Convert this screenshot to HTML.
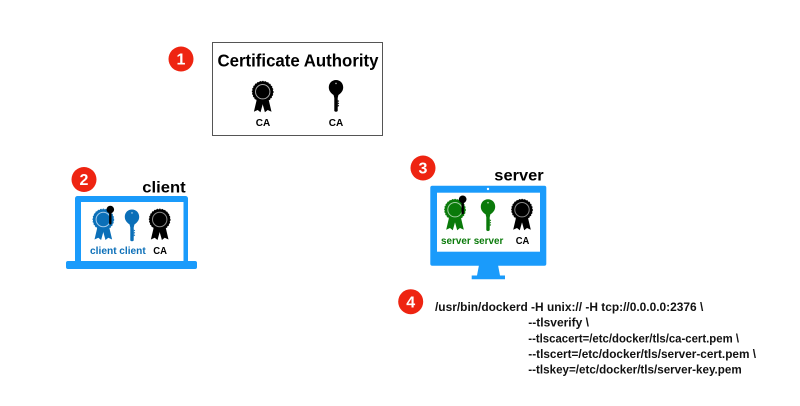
<!DOCTYPE html>
<html>
<head>
<meta charset="utf-8">
<style>
html,body{margin:0;padding:0;background:#fff;width:800px;height:406px;overflow:hidden}
svg{display:block}
text{font-family:"Liberation Sans",sans-serif;font-weight:bold}
</style>
</head>
<body>
<svg width="800" height="406" viewBox="0 0 800 406" xmlns="http://www.w3.org/2000/svg">
<defs>
<g id="ribbon">
  <polygon points="-5.5,6 -8.8,20 -5,18.3 -2.2,20.5 1,9"/>
  <polygon points="5.5,6 8.8,20 5,18.3 2.2,20.5 -1,9"/>
  <circle r="10.4"/>
  <circle r="10.5" fill="none" stroke="currentColor" stroke-width="0.7" stroke-dasharray="1.4 1.3"/>
</g>
<g id="key">
  <path d="M0,0 C4.2,0 7.2,3.2 7.2,7.4 C7.2,11 4.8,13.4 2.4,15 L1.7,18 L1.7,31 Q0,32.6 -1.7,31 L-1.7,18 L-2.4,15 C-4.8,13.4 -7.2,11 -7.2,7.4 C-7.2,3.2 -4.2,0 0,0 Z"/>
  <polygon points="1.7,20 3.2,21 1.7,22.3 3.2,23.3 1.7,24.6 3.2,25.6 1.7,27"/>
  <circle cx="0" cy="3.4" r="0.8" fill="#fff" fill-opacity="0.7"/>
</g>
</defs>

<!-- CA box -->
<rect x="212.5" y="42.5" width="170" height="93" fill="#fff" stroke="#555" stroke-width="1"/>
<text x="217.5" y="66.5" font-size="17.5" textLength="161" lengthAdjust="spacingAndGlyphs" fill="#000">Certificate Authority</text>
<use href="#ribbon" x="262.7" y="91.7" fill="#000" color="#000"/>
<circle cx="262.7" cy="91.7" r="7.2" fill="none" stroke="#a8a8a8" stroke-width="1"/>
<use href="#key" x="336" y="80" fill="#000"/>
<text x="263" y="126" font-size="10" text-anchor="middle" fill="#000">CA</text>
<text x="336" y="126" font-size="10" text-anchor="middle" fill="#000">CA</text>

<!-- badges -->
<g fill="#ee2411">
  <circle cx="181" cy="59" r="12.5"/>
  <circle cx="84" cy="179.5" r="12.5"/>
  <circle cx="423" cy="168" r="12.5"/>
  <circle cx="410.7" cy="301.7" r="12.5"/>
</g>
<g fill="#fff" font-size="16" text-anchor="middle">
  <text x="181" y="64.7">1</text>
  <text x="84" y="185.2">2</text>
  <text x="423" y="173.7">3</text>
  <text x="410.7" y="307.4">4</text>
</g>

<!-- client laptop -->
<text x="142.3" y="192.7" font-size="16" textLength="43.4" lengthAdjust="spacingAndGlyphs" fill="#000">client</text>
<rect x="75" y="196" width="113" height="68" rx="2.5" fill="#1a9bfb"/>
<rect x="81" y="202" width="102.5" height="59" fill="#fff"/>
<rect x="66" y="261" width="131" height="8" rx="2" fill="#1a9bfb"/>
<use href="#ribbon" x="103.3" y="219.5" fill="#0b6fb8" color="#0b6fb8"/>
<circle cx="103.3" cy="219.5" r="7.2" fill="none" stroke="#a5cdec" stroke-width="1"/>
<circle cx="110.3" cy="209.5" r="3.8" fill="#000"/>
<rect x="109.1" y="209.5" width="2.4" height="15" rx="1" fill="#000"/>
<use href="#key" x="132" y="209.5" fill="#0b6fb8"/>
<use href="#ribbon" x="159.7" y="219.5" fill="#000" color="#000"/>
<circle cx="159.7" cy="219.5" r="7.2" fill="none" stroke="#8a8a8a" stroke-width="1"/>
<text x="90" y="254" font-size="10.5" textLength="26.7" lengthAdjust="spacingAndGlyphs" fill="#0b6fb8">client</text>
<text x="119.3" y="254" font-size="10.5" textLength="26.4" lengthAdjust="spacingAndGlyphs" fill="#0b6fb8">client</text>
<text x="153.3" y="254" font-size="10.5" textLength="13.7" lengthAdjust="spacingAndGlyphs" fill="#000">CA</text>

<!-- server monitor -->
<text x="494.3" y="180.7" font-size="16" textLength="49.4" lengthAdjust="spacingAndGlyphs" fill="#000">server</text>
<rect x="430.3" y="185.7" width="116" height="80" rx="2" fill="#1a9bfb"/>
<rect x="437" y="192.7" width="103" height="59" fill="#fff"/>
<circle cx="488" cy="189" r="1.2" fill="#fff"/>
<polygon points="479,265 498,265 500,275.5 505,275.5 505,279.3 471.7,279.3 471.7,275.5 477,275.5" fill="#1a9bfb"/>
<use href="#ribbon" x="455" y="209.7" fill="#0a7a0a" color="#0a7a0a"/>
<circle cx="455" cy="209.7" r="7.2" fill="none" stroke="#a2d0a2" stroke-width="1"/>
<circle cx="462.7" cy="199.3" r="3.8" fill="#000"/>
<rect x="461.5" y="199.3" width="2.4" height="15" rx="1" fill="#000"/>
<use href="#key" x="488" y="199.3" fill="#0a7a0a"/>
<use href="#ribbon" x="522" y="209.7" fill="#000" color="#000"/>
<circle cx="522" cy="209.7" r="7.2" fill="none" stroke="#8a8a8a" stroke-width="1"/>
<text x="441" y="244" font-size="10.5" textLength="29.7" lengthAdjust="spacingAndGlyphs" fill="#0a7a0a">server</text>
<text x="473.7" y="244" font-size="10.5" textLength="29.6" lengthAdjust="spacingAndGlyphs" fill="#0a7a0a">server</text>
<text x="515.7" y="244" font-size="10.5" textLength="13.6" lengthAdjust="spacingAndGlyphs" fill="#000">CA</text>

<!-- command -->
<g font-size="11.5" fill="#111">
  <text x="435" y="311" textLength="268.3" lengthAdjust="spacingAndGlyphs">/usr/bin/dockerd -H unix:// -H tcp://0.0.0.0:2376 \</text>
  <text x="528.3" y="326.7" textLength="60.7" lengthAdjust="spacingAndGlyphs">--tlsverify \</text>
  <text x="528.3" y="342.3" textLength="210.7" lengthAdjust="spacingAndGlyphs">--tlscacert=/etc/docker/tls/ca-cert.pem \</text>
  <text x="528.3" y="358" textLength="227.7" lengthAdjust="spacingAndGlyphs">--tlscert=/etc/docker/tls/server-cert.pem \</text>
  <text x="528.3" y="373.3" textLength="213.4" lengthAdjust="spacingAndGlyphs">--tlskey=/etc/docker/tls/server-key.pem</text>
</g>
</svg>
</body>
</html>
